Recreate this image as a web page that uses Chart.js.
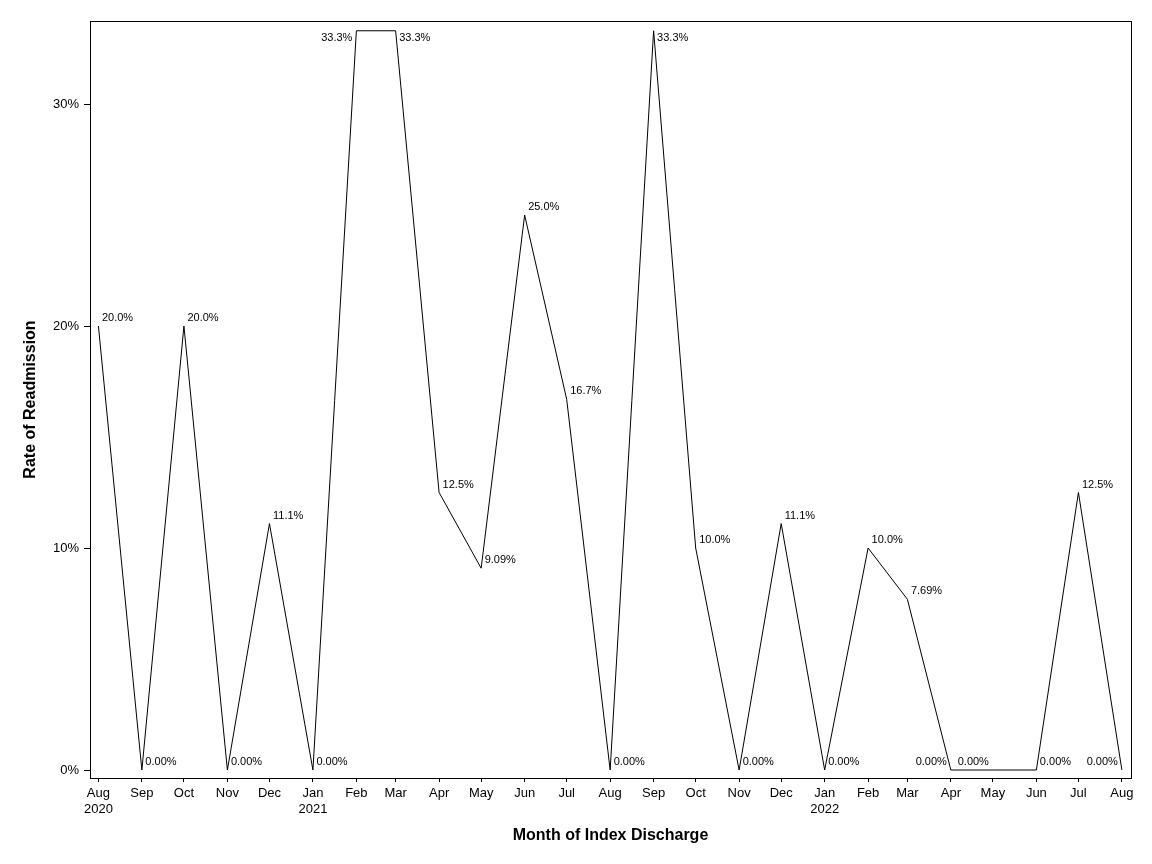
<!DOCTYPE html>
<html>
<head>
<meta charset="utf-8">
<script src="https://cdn.jsdelivr.net/npm/chart.js@4"></script>
<style>
  html, body { margin: 0; padding: 0; background: #fff; }
  #wrap { width: 1152px; height: 864px; }
</style>
</head>
<body>
<div id="wrap"><canvas id="chart"></canvas></div>
<script>
// month of index discharge (yyyy-mm) and readmission rate in percent
const months = ['2020-08', '2020-09', '2020-10', '2020-11', '2020-12', '2021-01', '2021-02', '2021-03',
  '2021-04', '2021-05', '2021-06', '2021-07', '2021-08', '2021-09', '2021-10', '2021-11', '2021-12',
  '2022-01', '2022-02', '2022-03', '2022-04', '2022-05', '2022-06', '2022-07', '2022-08'];
const rates = [20.0, 0, 20.0, 0, 11.1, 0, 33.3, 33.3, 12.5, 9.09, 25.0, 16.7, 0, 33.3, 10.0, 0,
  11.1, 0, 10.0, 7.69, 0, 0, 0, 12.5, 0];
const yTicks = [0, 10, 20, 30];
const monthNames = ['Jan', 'Feb', 'Mar', 'Apr', 'May', 'Jun', 'Jul', 'Aug', 'Sep', 'Oct', 'Nov', 'Dec'];
// which side of the point each value label sits on
const labelSide = ['r', 'r', 'r', 'r', 'r', 'r', 'l', 'r', 'r', 'r', 'r', 'r', 'r', 'r', 'r', 'r',
  'r', 'r', 'r', 'r', 'l', 'l', 'r', 'r', 'l'];

const FONT = '"Liberation Sans", Arial, sans-serif';

// x axis is a day count from the first month, so months get their real width
const origin = Date.UTC(2020, 7, 1);
function dayOf(ym) {
  const [y, m] = ym.split('-').map(Number);
  return (Date.UTC(y, m - 1, 1) - origin) / 86400000;
}
const xDays = months.map(dayOf);

function monthLabel(day) {
  const i = xDays.indexOf(day);
  if (i < 0) return '';
  const [y, m] = months[i].split('-').map(Number);
  const name = monthNames[m - 1];
  return (i === 0 || m === 1) ? [name, String(y)] : name;
}

const frame = {
  id: 'frame',
  afterDraw(chart) {
    const { ctx, chartArea: a } = chart;
    ctx.save();
    ctx.strokeStyle = '#000';
    ctx.lineWidth = 1;
    ctx.strokeRect(Math.round(a.left) + 0.5, Math.round(a.top) + 0.5,
      Math.round(a.right - a.left), Math.round(a.bottom - a.top));
    ctx.restore();
  }
};

const pointLabels = {
  id: 'pointLabels',
  afterDatasetsDraw(chart) {
    const { ctx, chartArea } = chart;
    const meta = chart.getDatasetMeta(0);
    ctx.save();
    ctx.font = '11px ' + FONT;
    ctx.fillStyle = '#000';
    ctx.textBaseline = 'middle';
    meta.data.forEach((pt, i) => {
      const text = rates[i].toPrecision(3) + '%';
      let y = pt.y - 8;
      if (y - 6 < chartArea.top) y = pt.y + 7;
      if (labelSide[i] === 'l') {
        ctx.textAlign = 'right';
        ctx.fillText(text, pt.x - 4, y);
      } else {
        ctx.textAlign = 'left';
        ctx.fillText(text, pt.x + 3.5, y);
      }
    });
    ctx.restore();
  }
};

new Chart(document.getElementById('chart'), {
  type: 'line',
  data: {
    datasets: [{
      data: xDays.map((d, i) => ({ x: d, y: rates[i] })),
      borderColor: '#000',
      borderWidth: 1,
      pointRadius: 0,
      tension: 0,
      fill: false
    }]
  },
  options: {
    responsive: true,
    maintainAspectRatio: false,
    animation: false,
    layout: { padding: { top: 21, right: 21, left: 0, bottom: 0 } },
    plugins: { legend: { display: false }, tooltip: { enabled: false } },
    scales: {
      x: {
        type: 'linear',
        min: -6,
        max: 736.5,
        afterBuildTicks: s => { s.ticks = xDays.map(v => ({ value: v })); },
        afterFit: s => { s.height = 86; },
        border: { display: false },
        grid: { drawOnChartArea: false, drawTicks: true, tickLength: 4, color: '#000' },
        ticks: {
          autoSkip: false,
          maxRotation: 0,
          padding: 4,
          color: '#000',
          font: { family: FONT, size: 13, lineHeight: 1.2 },
          callback: v => monthLabel(v)
        },
        title: {
          display: true,
          text: 'Month of Index Discharge',
          color: '#000',
          font: { family: FONT, size: 16, weight: 'bold' },
          padding: { top: 0, bottom: 19 }
        }
      },
      y: {
        min: -0.36,
        max: 33.74,
        afterBuildTicks: s => { s.ticks = yTicks.map(v => ({ value: v })); },
        afterFit: s => { s.width = 90; },
        border: { display: false },
        grid: { drawOnChartArea: false, drawTicks: true, tickLength: 6, color: '#000' },
        ticks: {
          padding: 5,
          color: '#000',
          font: { family: FONT, size: 13 },
          callback: v => v + '%'
        },
        title: {
          display: true,
          text: 'Rate of Readmission',
          color: '#000',
          font: { family: FONT, size: 16, weight: 'bold' },
          padding: { top: 21, bottom: 0 }
        }
      }
    }
  },
  plugins: [frame, pointLabels]
});
</script>
</body>
</html>
